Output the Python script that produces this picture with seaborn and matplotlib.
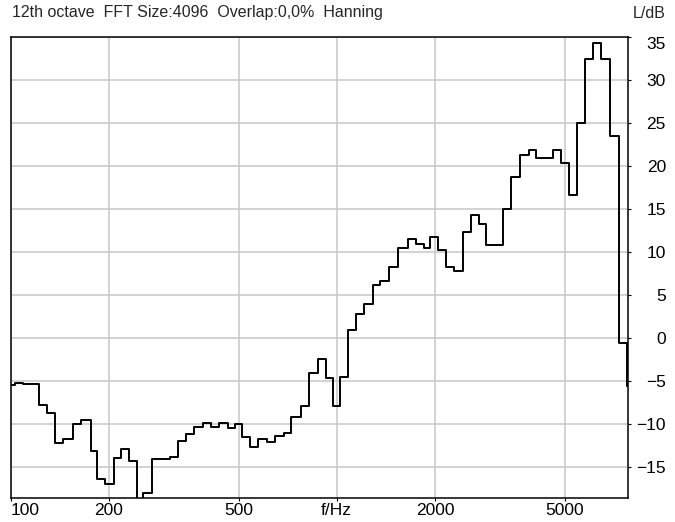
import matplotlib
matplotlib.use("Agg")
import matplotlib.pyplot as plt
import seaborn as sns
import pandas as pd

# 1/12 octave band edges (Hz) and band levels (dB)
edges = [95, 102.9, 109.4, 122.2, 129.0, 136.8, 145.1, 155.3, 164.8, 175.9,
         184.5, 194.6, 207.4, 218.5, 230.6, 244.6, 255.2, 270.6, 307.2, 325.7,
         343.9, 364.6, 388.4, 412.1, 437.0, 463.3, 489.2, 511.4, 541.2, 574.2,
         612.0, 648.8, 688.0, 726.4, 778.1, 825.0, 874.6, 928.0, 972.2, 1026.5,
         1083.8, 1149.2, 1216.1, 1289.0, 1360.9, 1442.9, 1542.2, 1654.8, 1750.9, 1847.8,
         1937.2, 2045.3, 2164.0, 2294.4, 2432.6, 2580.6, 2722.6, 2874.5, 3234.4, 3422.2,
         3653.7, 3873.7, 4089.9, 4596.5, 4869.7, 5138.4, 5452.0, 5780.3, 6103.2, 6471.0,
         6860.9, 7311.7, 7758.6, 8200]
levels = [-5.4, -5.2, -5.35, -7.7, -8.7, -12.1, -11.7, -10.0, -9.5, -13.1,
          -16.3, -16.9, -13.9, -12.85, -14.2, -20.0, -18.0, -14.05, -13.75, -11.9,
          -11.1, -10.25, -9.8, -10.25, -9.8, -10.4, -10.0, -11.5, -12.65, -11.7,
          -12.05, -11.35, -10.95, -9.1, -7.8, -4.05, -2.4, -4.6, -7.85, -4.45,
          1.0, 2.8, 4.0, 6.15, 6.7, 8.25, 10.45, 11.55, 11.0, 10.45,
          11.75, 10.3, 8.3, 7.85, 12.3, 14.35, 13.3, 10.85, 15.05, 18.7,
          21.35, 21.85, 20.9, 21.85, 20.4, 16.6, 25.0, 32.5, 34.3, 32.5,
          23.55, -0.55, -5.5]

x_ticks = [100, 200, 500, 1000, 2000, 5000]
x_labels = ["100", "200", "500", "f/Hz", "2000", "5000"]
y_ticks = [-15, -10, -5, 0, 5, 10, 15, 20, 25, 30, 35]

sns.set_style("white")
plt.rcParams['font.family'] = ['Liberation Sans', 'DejaVu Sans']

fig = plt.figure(figsize=(6.75, 5.22), dpi=100)
ax = fig.add_axes([0.0156, 0.0467, 0.9144, 0.8824])

df = pd.DataFrame({'f': edges, 'L': levels + [levels[-1]]})
sns.lineplot(data=df, x='f', y='L', drawstyle='steps-post', color='black',
             lw=1.4, estimator=None, ax=ax)

ax.set_xscale('log')
ax.set_xlim(100, 7800)
ax.set_ylim(-18.5, 35)
ax.set_xticks(x_ticks)
ax.set_xticklabels(x_labels)
ax.minorticks_off()
ax.set_yticks(y_ticks)
ax.set_xlabel('')
ax.set_ylabel('')

ax.grid(True, color='#c8c8c8', lw=1.1)
ax.set_axisbelow(True)
for s in ax.spines.values():
    s.set_color('black')
    s.set_linewidth(1.1)

ax.yaxis.tick_right()
ax.tick_params(axis='x', bottom=True, direction='out', length=2.5, width=0.8,
               colors='black', labelsize=12.5, pad=1.5)
ax.tick_params(axis='y', right=True, left=False, direction='out', length=2.5, width=0.8,
               colors='black', labelsize=12.5, pad=25)
for lab in ax.get_yticklabels():
    lab.set_ha('right')
ax.get_yticklabels()[-1].set_va('top')
ax.get_xticklabels()[0].set_ha('left')

fig.text(12 / 675, 1 - 13 / 522, "12th octave  FFT Size:4096  Overlap:0,0%  Hanning",
         fontsize=11.5, va='center', ha='left')
fig.text(666 / 675, 1 - 13 / 522, "L/dB", fontsize=11.5, va='center', ha='right')

fig.savefig("out.png", dpi=100)
